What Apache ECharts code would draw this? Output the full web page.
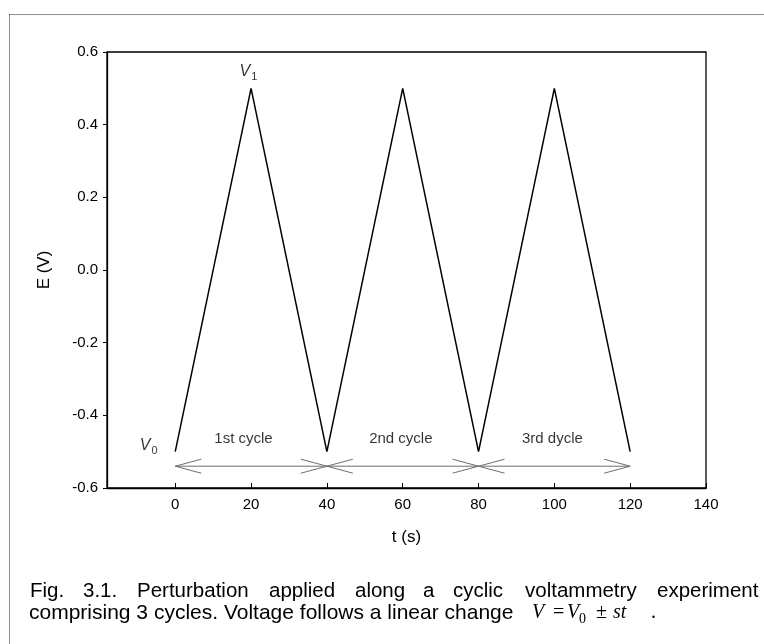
<!DOCTYPE html>
<html>
<head>
<meta charset="utf-8">
<script src="https://cdn.jsdelivr.net/npm/echarts@6/dist/echarts.min.js"></script>
<style>
html,body{margin:0;padding:0;background:#fff;}
#chart{width:764px;height:644px;}
</style>
</head>
<body>
<div id="chart"></div>
<script>
// ---- data ----
const xTickValues = [0, 20, 40, 60, 80, 100, 120, 140];
const timeS = [0, 20, 40, 60, 80, 100, 120];
const potentialV = [-0.5, 0.5, -0.5, 0.5, -0.5, 0.5, -0.5];
const arrowStart = [0, 40, 80];
const arrowEnd = [40, 80, 120];
const arrowLevel = [-0.54, -0.54, -0.54];
const cycleNames = ['1st cycle', '2nd cycle', '3rd dycle'];
const cycleLabelX = [18, 59.5, 99.5];
const cycleLabelY = [-0.465, -0.465, -0.465];
const vertexSub = ['1', '0'];
const vertexX = [19.3, -7];
const vertexY = [0.544, -0.487];
const captionLine1 = ['Fig.', '3.1.', 'Perturbation', 'applied', 'along', 'a', 'cyclic', 'voltammetry', 'experiment'];
const captionLine1X = [30, 83, 137, 269, 355, 423, 453, 525, 657];
const captionLine2 = 'comprising 3 cycles. Voltage follows a linear change';

const SANS = 'Liberation Sans, Arial, sans-serif';
const SERIF = 'Liberation Serif, Times New Roman, serif';

const chart = echarts.init(document.getElementById('chart'), null, {renderer: 'canvas'});

const graphic = [];
// dotted frame
graphic.push({type: 'line', shape: {x1: 9.5, y1: 14.5, x2: 764, y2: 14.5}, style: {stroke: '#222', lineWidth: 1, lineDash: [1, 1]}, silent: true});
graphic.push({type: 'line', shape: {x1: 9.5, y1: 14.5, x2: 9.5, y2: 644}, style: {stroke: '#222', lineWidth: 1, lineDash: [1, 1]}, silent: true});
// caption
captionLine1.forEach((w, i) => graphic.push({type: 'text', x: captionLine1X[i], y: 591, style: {text: w, fontSize: 20.5, fontFamily: SANS, fill: '#000', verticalAlign: 'middle', align: 'left'}, silent: true}));
graphic.push({type: 'text', x: 29, y: 613, style: {text: captionLine2, fontSize: 21, fontFamily: SANS, fill: '#000', verticalAlign: 'middle', align: 'left'}, silent: true});
const formula = [
  {t: 'V', x: 532, it: true, fs: 20, dy: 0},
  {t: '=', x: 553, it: false, fs: 20, dy: 0},
  {t: 'V', x: 567, it: true, fs: 20, dy: 0},
  {t: '0', x: 579, it: false, fs: 14, dy: 6},
  {t: '±', x: 596, it: false, fs: 20, dy: 0},
  {t: 'st', x: 613, it: true, fs: 20, dy: 0},
  {t: '.', x: 651, it: false, fs: 20, dy: 0}
];
formula.forEach(f => graphic.push({type: 'text', x: f.x, y: 613 + f.dy, style: {text: f.t, fontSize: f.fs, fontFamily: SERIF, fontStyle: f.it ? 'italic' : 'normal', fill: '#000', verticalAlign: 'middle', align: 'left'}, silent: true}));

const option = {
  animation: false,
  backgroundColor: '#fff',
  grid: {left: 107, top: 52, width: 599, height: 436, show: true, borderColor: '#000', borderWidth: 1.3, backgroundColor: 'transparent'},
  xAxis: {
    type: 'value', min: -18, max: 140,
    name: 't (s)', nameLocation: 'middle', nameGap: 41,
    nameTextStyle: {fontSize: 17, fontFamily: SANS, color: '#000'},
    axisLine: {show: true, onZero: false, lineStyle: {color: '#000', width: 1.3}},
    axisTick: {show: true, inside: true, length: 5, customValues: xTickValues, lineStyle: {color: '#000', width: 1}},
    axisLabel: {show: true, customValues: xTickValues, fontSize: 15, fontFamily: SANS, color: '#000', margin: 9},
    splitLine: {show: false}
  },
  yAxis: {
    type: 'value', min: -0.6, max: 0.6, interval: 0.2,
    name: 'E (V)', nameLocation: 'middle', nameGap: 54, nameRotate: 90,
    nameTextStyle: {fontSize: 17, fontFamily: SANS, color: '#000'},
    axisLine: {show: true, onZero: false, lineStyle: {color: '#000', width: 1.3}},
    axisTick: {show: true, inside: false, length: 4, lineStyle: {color: '#000', width: 1}},
    axisLabel: {fontSize: 15, fontFamily: SANS, color: '#000', margin: 9, formatter: v => v.toFixed(1)},
    splitLine: {show: false}
  },
  graphic: graphic,
  series: [
    {
      type: 'line', silent: true, symbol: 'none',
      data: timeS.map((t, i) => [t, potentialV[i]]),
      lineStyle: {color: '#000', width: 1.5}
    },
    {
      type: 'custom', silent: true,
      data: arrowStart.map((s, i) => [s, arrowEnd[i], arrowLevel[i]]),
      encode: {x: [0, 1], y: 2},
      renderItem: function (params, api) {
        const p1 = api.coord([api.value(0), api.value(2)]);
        const p2 = api.coord([api.value(1), api.value(2)]);
        const L = 26, W = 7;
        const st = {stroke: '#6e6e6e', lineWidth: 1, fill: null};
        return {type: 'group', children: [
          {type: 'line', shape: {x1: p1[0], y1: p1[1], x2: p2[0], y2: p2[1]}, style: st},
          {type: 'polyline', shape: {points: [[p1[0] + L, p1[1] - W], [p1[0], p1[1]], [p1[0] + L, p1[1] + W]]}, style: st},
          {type: 'polyline', shape: {points: [[p2[0] - L, p2[1] - W], [p2[0], p2[1]], [p2[0] - L, p2[1] + W]]}, style: st}
        ]};
      }
    },
    {
      type: 'scatter', silent: true, symbolSize: 0,
      data: cycleNames.map((n, i) => ({name: n, value: [cycleLabelX[i], cycleLabelY[i]]})),
      label: {show: true, position: 'inside', formatter: p => p.name, fontSize: 15, fontFamily: SANS, color: '#000'}
    },
    {
      type: 'scatter', silent: true, symbolSize: 0,
      data: vertexSub.map((n, i) => ({name: n, value: [vertexX[i], vertexY[i]]})),
      label: {
        show: true, position: 'inside',
        formatter: p => '{v|V}{s|' + p.name + '}',
        rich: {
          v: {fontSize: 16, fontStyle: 'italic', fontFamily: SANS, color: '#000', verticalAlign: 'top', lineHeight: 18},
          s: {fontSize: 11, fontFamily: SANS, color: '#000', verticalAlign: 'top', padding: [8, 0, 0, 1], lineHeight: 13}
        }
      }
    }
  ]
};
chart.setOption(option);
</script>
</body>
</html>
